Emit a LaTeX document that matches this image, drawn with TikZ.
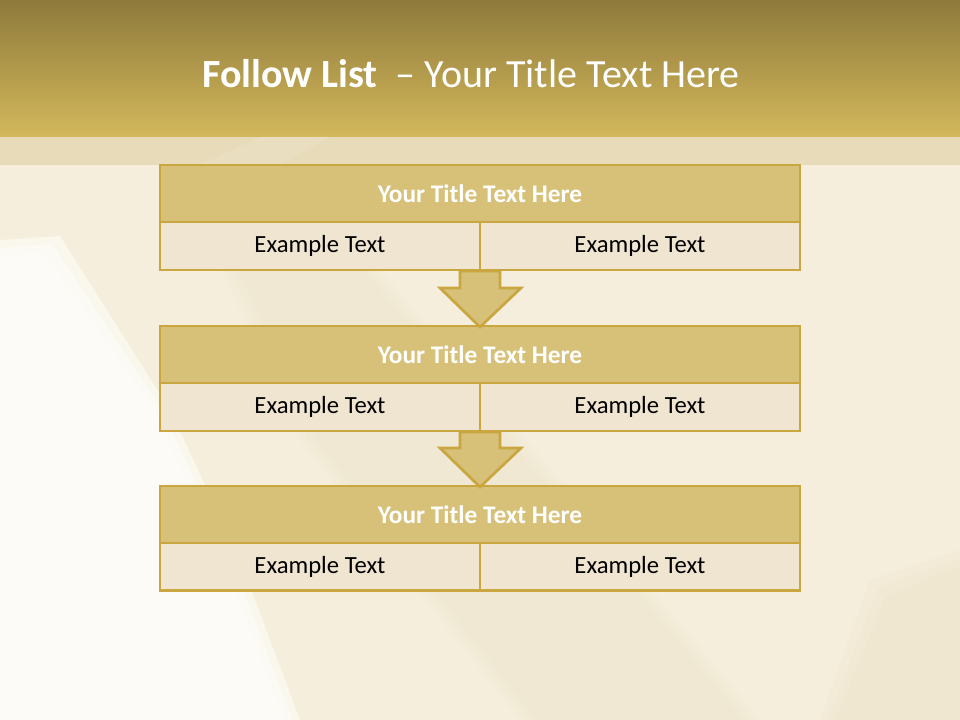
\documentclass[tikz,border=0pt]{standalone}
\usepackage{fontspec}
\setmainfont{Carlito}
\definecolor{hdrtop}{HTML}{8E7A3C}
\definecolor{hdrbot}{HTML}{D3B85B}
\definecolor{band}{HTML}{E7DBBA}
\definecolor{bgbase}{HTML}{F5EEDC}
\definecolor{bgwhite}{HTML}{FEFDF9}
\definecolor{bgshade}{HTML}{ECE1C6}
\definecolor{titlefill}{HTML}{D7C178}
\definecolor{rowfill}{HTML}{EFE5D0}
\definecolor{edge}{HTML}{C9A640}
\tikzset{
  titlerow/.style={draw=edge, line width=2.2pt, fill=titlefill, minimum width=480pt, minimum height=42.75pt, inner sep=0pt, font=\bfseries\fontsize{19}{22}\selectfont, text=white},
  cellbox/.style={draw=edge, line width=2.2pt, fill=rowfill, minimum width=240pt, minimum height=36pt, inner sep=0pt, font=\fontsize{18.5}{22}\selectfont, text=black},
  downarrow/.style={draw=edge, line width=2pt, fill=titlefill, line join=miter}
}
\begin{document}
\begin{tikzpicture}[x=0.75pt,y=-0.75pt]
\useasboundingbox (0,0) rectangle (960,720);
% background
\fill[bgbase] (0,0) rectangle (960,720);
\foreach \d in {0,8,16} {
  \fill[bgwhite, opacity=0.6] (0,240+\d) -- (60-\d,236+\d) -- (170-\d,410) -- (240-\d,560) -- (300-\d,720) -- (0,720) -- cycle;
  \fill[bgshade, opacity=0.15] (190+\d,200) -- (320-\d,200) -- (560-\d,480) -- (760-\d,720) -- (520+\d,720) -- (300+\d,440) -- cycle;
  \fill[bgshade, opacity=0.18] (870+\d,580+\d) -- (960,550+\d) -- (960,720) -- (820+\d,720) -- cycle;
}
% header
\shade[top color=hdrtop, bottom color=hdrbot] (0,0) rectangle (960,137);
\fill[band] (0,137) rectangle (960,165);
\fill[bgshade, opacity=0.5] (200,165) -- (260,137) -- (330,137) -- (280,165) -- cycle;
\node[anchor=base, text=white, font=\fontsize{30}{36}\selectfont] (title) at (471,88) {\textbf{Follow List}\ \ – Your Title Text Here};
% boxes
\foreach \i/\ty/\ry in {1/193.5/246, 2/354.5/407, 3/514.5/566.5} {
  \node[cellbox] (l\i) at (320,\ry) {Example Text};
  \node[cellbox] (r\i) at (640,\ry) {Example Text};
  \node[titlerow] (t\i) at (480,\ty) {Your Title Text Here};
}
% arrows
\draw[downarrow] (460,271) -- (460,288) -- (440,288) -- (480,327) -- (521,288) -- (500,288) -- (500,271) -- cycle;
\draw[downarrow] (460,432) -- (460,448) -- (440,448) -- (480,487) -- (521,448) -- (500,448) -- (500,432) -- cycle;
\end{tikzpicture}
\end{document}
